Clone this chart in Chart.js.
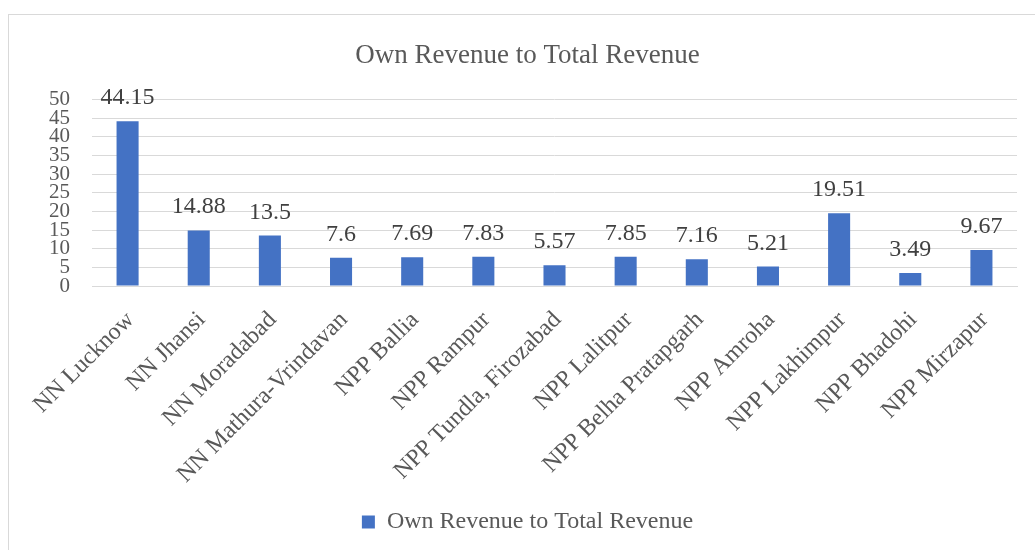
<!DOCTYPE html>
<html>
<head>
<meta charset="utf-8">
<script src="https://cdn.jsdelivr.net/npm/chart.js@4"></script>
<style>
  html, body { margin: 0; padding: 0; background: #fff; overflow: hidden; }
  #wrap { position: relative; width: 1035px; height: 550px; overflow: hidden; }
  #frame { position: absolute; left: 8px; top: 14px; width: 1100px; height: 600px; border: 1px solid #d9d9d9; box-sizing: border-box; }
  canvas { position: absolute; left: 0; top: 0; }
</style>
</head>
<body>
<div id="wrap">
  <div id="frame"></div>
  <canvas id="c" width="1035" height="550"></canvas>
</div>
<script>
const categories = [
  "NN Lucknow", "NN Jhansi", "NN Moradabad", "NN Mathura-Vrindavan",
  "NPP Ballia", "NPP Rampur", "NPP Tundla, Firozabad", "NPP Lalitpur",
  "NPP Belha Pratapgarh", "NPP Amroha", "NPP Lakhimpur", "NPP Bhadohi", "NPP Mirzapur"
];
const values = [44.15, 14.88, 13.5, 7.6, 7.69, 7.83, 5.57, 7.85, 7.16, 5.21, 19.51, 3.49, 9.67];
const valueLabels = ["44.15", "14.88", "13.5", "7.6", "7.69", "7.83", "5.57", "7.85", "7.16", "5.21", "19.51", "3.49", "9.67"];
const seriesName = "Own Revenue to Total Revenue";
const chartTitle = "Own Revenue to Total Revenue";
const yMin = 0, yMax = 50, yStep = 5;

const SERIF = "'Liberation Serif', 'DejaVu Serif', serif";

const dataLabelPlugin = {
  id: 'dataLabels',
  afterDatasetsDraw(chart) {
    const ctx = chart.ctx;
    const meta = chart.getDatasetMeta(0);
    ctx.save();
    ctx.font = "24px " + SERIF;
    ctx.fillStyle = "#404040";
    ctx.textAlign = "center";
    ctx.textBaseline = "alphabetic";
    meta.data.forEach((bar, i) => {
      ctx.fillText(valueLabels[i], bar.x, bar.y - 17);
    });
    ctx.restore();
  }
};

new Chart(document.getElementById('c'), {
  type: 'bar',
  data: {
    labels: categories,
    datasets: [{
      label: seriesName,
      data: values,
      backgroundColor: '#4472C4',
      borderWidth: 0,
      barPercentage: 0.31,
      categoryPercentage: 1.0
    }]
  },
  options: {
    responsive: false,
    animation: false,
    devicePixelRatio: 1,
    layout: { padding: { left: 38, right: 18, top: 0, bottom: 6 } },
    plugins: {
      title: {
        display: true,
        text: chartTitle,
        color: '#595959',
        font: { family: SERIF, size: 27, weight: 'normal' },
        padding: { top: 40, bottom: 27 }
      },
      legend: {
        display: true,
        position: 'bottom',
        labels: {
          color: '#595959',
          font: { family: SERIF, size: 24 },
          boxWidth: 13,
          boxHeight: 13,
          padding: 10
        }
      },
      tooltip: { enabled: false }
    },
    scales: {
      x: {
        grid: { display: false, drawTicks: false },
        border: { display: true, color: '#d9d9d9', width: 1 },
        ticks: {
          color: '#595959',
          font: { family: SERIF, size: 24 },
          maxRotation: 45,
          minRotation: 45,
          autoSkip: false,
          padding: 20,
          labelOffset: 3
        },
        afterFit(scale) { scale.height = 214; }
      },
      y: {
        min: yMin,
        max: yMax,
        grid: { color: '#d9d9d9', lineWidth: 1, drawTicks: false },
        border: { display: false },
        ticks: {
          stepSize: yStep,
          autoSkip: false,
          color: '#595959',
          font: { family: SERIF, size: 21 },
          padding: 22
        },
        afterFit(scale) { scale.width = 54; }
      }
    }
  },
  plugins: [dataLabelPlugin]
});
</script>
</body>
</html>
